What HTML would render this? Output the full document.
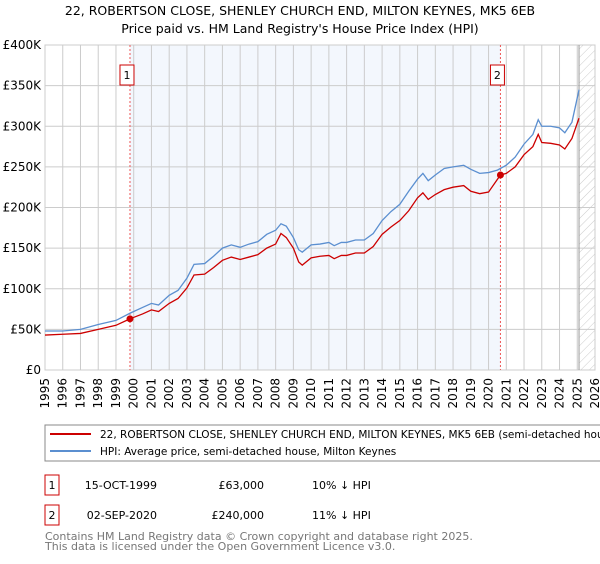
<!DOCTYPE html>
<html><head><meta charset="utf-8"><style>
body{margin:0;background:#fff;font-family:"DejaVu Sans","Liberation Sans",sans-serif;}
svg text{font-family:"DejaVu Sans","Liberation Sans",sans-serif;}
</style></head><body>
<svg id="chart" width="600" height="560" xmlns="http://www.w3.org/2000/svg">
<defs><pattern id="hatch" width="6" height="6" patternUnits="userSpaceOnUse" patternTransform="rotate(45)"><line x1="0" y1="0" x2="0" y2="6" stroke="#ccc" stroke-width="1"/></pattern></defs>
<text x="300" y="15" text-anchor="middle" font-size="12.5">22, ROBERTSON CLOSE, SHENLEY CHURCH END, MILTON KEYNES, MK5 6EB</text>
<text x="300" y="33" text-anchor="middle" font-size="12.5">Price paid vs. HM Land Registry's House Price Index (HPI)</text>
<g id="plot"></g>
<rect x="45" y="425" width="560" height="36" fill="#fff" stroke="#888"/>
<line x1="50" y1="434" x2="91" y2="434" stroke="#cc0000" stroke-width="2"/>
<text x="100" y="438" font-size="10.5">22, ROBERTSON CLOSE, SHENLEY CHURCH END, MILTON KEYNES, MK5 6EB (semi-detached house)</text>
<line x1="50" y1="451" x2="91" y2="451" stroke="#5b8fd0" stroke-width="2"/>
<text x="100" y="455" font-size="10.5">HPI: Average price, semi-detached house, Milton Keynes</text>
<rect x="45" y="475" width="14" height="20" fill="#fff" stroke="#cc0000"/>
<text x="52" y="489" text-anchor="middle" font-size="11">1</text>
<text x="157" y="489" text-anchor="end" font-size="11">15-OCT-1999</text>
<text x="264" y="489" text-anchor="end" font-size="11">£63,000</text>
<text x="312" y="489" font-size="11">10% ↓ HPI</text>
<rect x="45" y="505" width="14" height="20" fill="#fff" stroke="#cc0000"/>
<text x="52" y="519" text-anchor="middle" font-size="11">2</text>
<text x="157" y="519" text-anchor="end" font-size="11">02-SEP-2020</text>
<text x="264" y="519" text-anchor="end" font-size="11">£240,000</text>
<text x="312" y="519" font-size="11">11% ↓ HPI</text>
<text x="45" y="540" font-size="11" fill="#777">Contains HM Land Registry data © Crown copyright and database right 2025.</text>
<text x="45" y="550" font-size="11" fill="#777">This data is licensed under the Open Government Licence v3.0.</text>
</svg>
<script>
const hpiYears=[1995,1996,1997,1998,1999,1999.8,2000.5,2001,2001.4,2002,2002.5,2003,2003.4,2004,2004.5,2005,2005.5,2006,2006.5,2007,2007.5,2008,2008.3,2008.6,2009,2009.3,2009.5,2010,2010.5,2011,2011.3,2011.7,2012,2012.5,2013,2013.5,2014,2014.5,2015,2015.5,2016,2016.3,2016.6,2017,2017.5,2018,2018.6,2019,2019.5,2020,2020.5,2021,2021.5,2022,2022.5,2022.8,2023,2023.5,2024,2024.3,2024.7,2025.1];
const hpiValues=[48,48,50,56,61,70,77,82,80,92,98,113,130,131,140,150,154,151,155,158,167,172,180,177,163,148,145,154,155,157,153,157,157,160,160,168,184,195,204,220,235,242,233,240,248,250,252,247,242,243,246,252,262,278,290,308,300,300,298,292,305,345];
const priceYears=[1995,1996,1997,1998,1999,1999.79,2000.5,2001,2001.4,2002,2002.5,2003,2003.4,2004,2004.5,2005,2005.5,2006,2006.5,2007,2007.5,2008,2008.3,2008.6,2009,2009.3,2009.5,2010,2010.5,2011,2011.3,2011.7,2012,2012.5,2013,2013.5,2014,2014.5,2015,2015.5,2016,2016.3,2016.6,2017,2017.5,2018,2018.6,2019,2019.5,2020,2020.67,2021,2021.5,2022,2022.5,2022.8,2023,2023.5,2024,2024.3,2024.7,2025.1];
const priceValues=[43,44,45,50,55,63,69,74,72,82,88,101,117,118,126,135,139,136,139,142,150,155,168,163,150,133,129,138,140,141,137,141,141,144,144,152,167,176,184,196,212,218,210,216,222,225,227,220,217,219,240,242,250,265,275,290,280,279,277,272,285,310];
const saleYears=[1999.79,2020.67];
const saleValues=[63,240];
const saleLabels=["1","2"];
const yTicks=[0,50,100,150,200,250,300,350,400];
const yTickLabels=["£0","£50K","£100K","£150K","£200K","£250K","£300K","£350K","£400K"];
const xTicks=[1995,1996,1997,1998,1999,2000,2001,2002,2003,2004,2005,2006,2007,2008,2009,2010,2011,2012,2013,2014,2015,2016,2017,2018,2019,2020,2021,2022,2023,2024,2025,2026];

const X0=45,X1=595,Y0=370,Y1=45;
const xs=y=>X0+(y-1995)/(2026-1995)*(X1-X0);
const ys=v=>Y0-v/400*(Y0-Y1);
const g=document.getElementById('plot');
const NS='http://www.w3.org/2000/svg';
function mk(t,a){const e=document.createElementNS(NS,t);for(const k in a)e.setAttribute(k,a[k]);g.appendChild(e);return e;}
let e;
e=mk('rect',{x:xs(saleYears[0]),y:Y1,width:xs(saleYears[1])-xs(saleYears[0]),height:Y0-Y1,fill:'#eef3fc',opacity:0.7});


e=mk('rect',{x:xs(2025.1),y:Y1,width:X1-xs(2025.1),height:Y0-Y1,fill:'url(#hatch)'});


yTicks.forEach((t,i)=>{
 mk('line',{x1:X0,x2:X1,y1:ys(t),y2:ys(t),stroke:'#ccc'});
 e=mk('text',{x:X0-4,y:ys(t)+4,'text-anchor':'end','font-size':12});
 e.textContent=yTickLabels[i];
 
 
});
xTicks.forEach(t=>{
 mk('line',{x1:xs(t),x2:xs(t),y1:Y1,y2:Y0,stroke:'#ccc'});
 e=mk('text',{x:0,y:0,'text-anchor':'end','font-size':12,transform:`translate(${xs(t)+4},${Y0+8}) rotate(-90)`});
 e.textContent=t;
 
 
});
mk('rect',{x:X0,y:Y1,width:X1-X0,height:Y0-Y1,fill:'none',stroke:'#ccc'});
mk('line',{x1:xs(2025.1),x2:xs(2025.1),y1:Y1,y2:Y0,stroke:'#999'});
saleYears.forEach((y,i)=>{
 e=mk('line',{x1:xs(y),x2:xs(y),y1:Y1,y2:Y0,stroke:'#e55','stroke-dasharray':'2,2'});
 
 
 e=mk('rect',{x:xs(y)-10,y:65,width:14,height:20,fill:'#fff',stroke:'#cc0000'});
 
 
 const t=mk('text',{x:xs(y)-3,y:79,'text-anchor':'middle','font-size':11});
 t.textContent=saleLabels[i];
});
function line(xa,va,col,name){
 const p=mk('polyline',{points:xa.map((y,i)=>xs(y)+','+ys(va[i])).join(' '),fill:'none',stroke:col,'stroke-width':1.3});
 
 
}
line(hpiYears,hpiValues,'#5b8fd0','hpi-line');
line(priceYears,priceValues,'#cc0000','price-line');
saleYears.forEach((y,i)=>{
 e=mk('circle',{cx:xs(y),cy:ys(saleValues[i]),r:3.5,fill:'#cc0000'});
 
 
});
</script>
</body></html>
